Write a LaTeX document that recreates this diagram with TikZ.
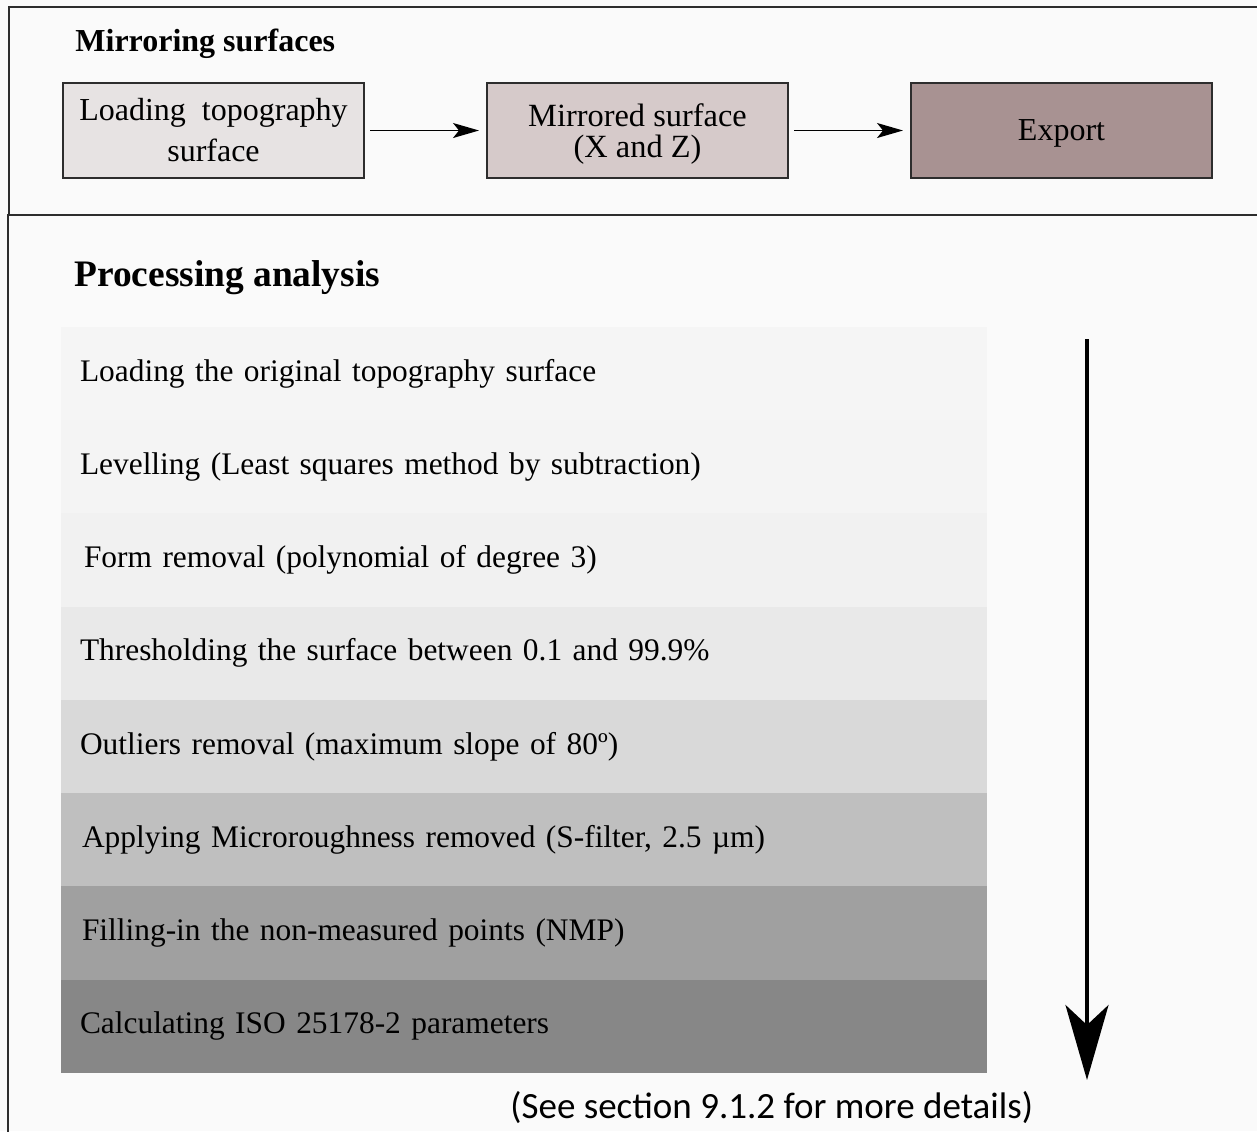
\documentclass[tikz,border=0pt]{standalone}
\usepackage{fontspec}
\setmainfont{Liberation Serif}
\newfontfamily\notefont{Carlito}
\usetikzlibrary{positioning,arrows.meta}

\definecolor{bg}{RGB}{250,250,250}
\definecolor{edge}{RGB}{45,45,45}
\definecolor{load}{RGB}{231,227,227}
\definecolor{mirror}{RGB}{214,202,202}
\definecolor{export}{RGB}{168,146,146}
\definecolor{g1}{RGB}{245,245,245}
\definecolor{g2}{RGB}{244,244,244}
\definecolor{g3}{RGB}{241,241,241}
\definecolor{g4}{RGB}{233,233,233}
\definecolor{g5}{RGB}{217,217,217}
\definecolor{g6}{RGB}{191,191,191}
\definecolor{g7}{RGB}{160,160,160}
\definecolor{g8}{RGB}{135,135,135}

\begin{document}
\begin{tikzpicture}[
        x=0.5pt, y=-0.5pt,
        panel/.style={draw=edge, line width=0.75pt},
        stepbox/.style={draw=edge, fill=#1, line width=1pt, outer sep=0pt, minimum width=150.5pt, minimum height=47.5pt, inner sep=0pt, align=center},
        band/.style={fill=#1, outer sep=0pt, text width=444pt, inner xsep=9.5pt, inner ysep=0pt, minimum height=46.625pt, align=left, font=\fontsize{15.7}{19}\selectfont},
        heading/.style={anchor=base west, inner sep=0pt, font=\bfseries},
        flow/.style={-{Stealth[length=13pt, width=7.5pt, inset=3pt]}, line width=0.75pt, shorten <=3pt, shorten >=4pt},
        bigarrow/.style={-{Stealth[length=37.5pt, width=21.5pt, inset=10pt]}, line width=2pt},
    ]

    \fill[bg] (0,0) rectangle (1257,1131);
    \useasboundingbox (0,0) rectangle (1257,1131);
    \clip (0,0) rectangle (1257,1131);

    % panels
    \draw[panel] (9,7) rectangle (1270,215);
    \draw[panel] (8,215) rectangle (1270,1140);

    % mirroring surfaces
    \node[heading, font=\bfseries\fontsize{16}{19}\selectfont] (mtitle) at (75,51) {Mirroring surfaces};

    \node[stepbox=load, font=\fontsize{16}{20.5}\selectfont] (load) at (213.5,130.5) {Loading\ \ topography\\surface};
    \node[stepbox=mirror, font=\fontsize{16.2}{15.5}\selectfont, text depth=-3pt, right=61.5pt of load] (mirror) {Mirrored surface\\(X and Z)};
    \node[stepbox=export, font=\fontsize{16}{19}\selectfont, text depth=0pt, right=61.5pt of mirror] (export) {Export};

    \draw[flow] (load) -- (mirror);
    \draw[flow] (mirror) -- (export);

    % processing analysis
    \node[heading, font=\bfseries\fontsize{18.7}{22}\selectfont] (ptitle) at (74,286) {Processing analysis};

    \node[band=g1] (b1) at (524,373.5) {Loading the original topography surface};
    \node[band=g2, below=0pt of b1] (b2) {Levelling (Least squares method by subtraction)};
    \node[band=g3, below=0pt of b2] (b3) {\hspace{2pt}Form removal (polynomial of degree 3)};
    \node[band=g4, below=0pt of b3] (b4) {Thresholding the surface between 0.1 and 99.9\%};
    \node[band=g5, below=0pt of b4] (b5) {Outliers removal (maximum slope of 80º)};
    \node[band=g6, below=0pt of b5] (b6) {\hspace{1pt}Applying Microroughness removed (S-filter, 2.5 µm)};
    \node[band=g7, below=0pt of b6] (b7) {\hspace{1pt}Filling-in the non-measured points (NMP)};
    \node[band=g8, below=0pt of b7] (b8) {Calculating ISO 25178-2 parameters};

    \coordinate (flowtop) at (1087,339);
    \coordinate (flowend) at (1087,1080);
    \draw[bigarrow] (flowtop) -- (flowend);

    \node[anchor=base west, inner sep=0pt, font=\notefont\fontsize{18.5}{22}\selectfont] (note) at (510,1118) {(See section 9.1.2 for more details)};
\end{tikzpicture}
\end{document}
